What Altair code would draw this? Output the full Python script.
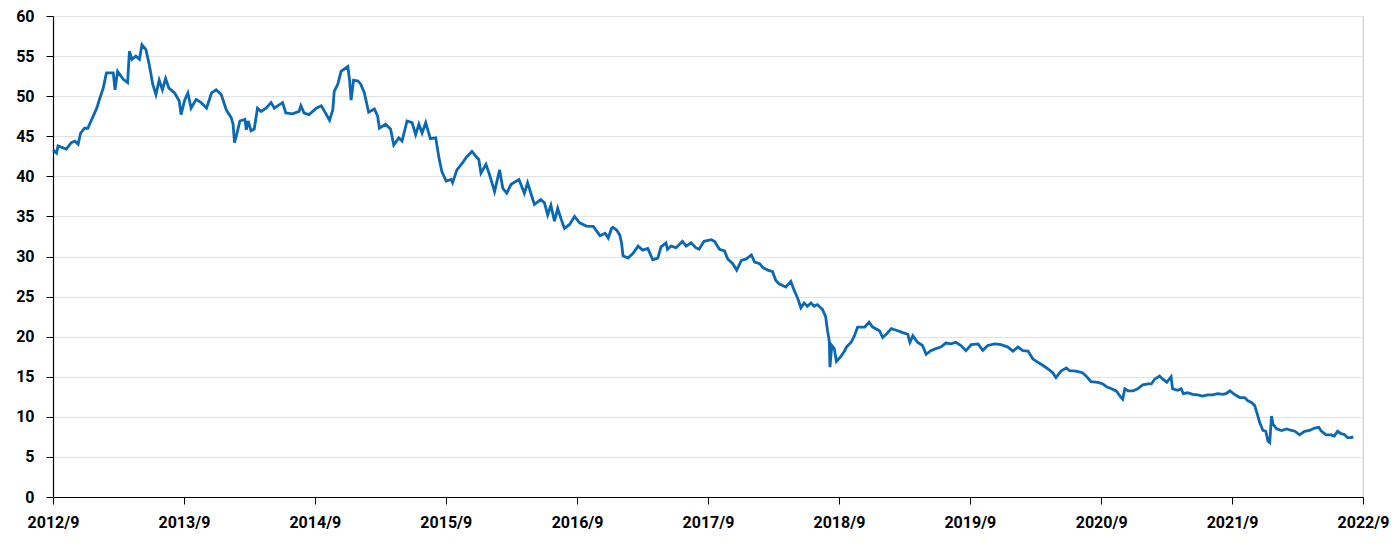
import altair as alt
import pandas as pd

dates = [
    "2012-09-01", "2012-09-11", "2012-09-15", "2012-10-08", "2012-10-22", "2012-11-01", "2012-11-10",
    "2012-11-17", "2012-11-28", "2012-12-07", "2012-12-17", "2013-01-01", "2013-01-10", "2013-01-19",
    "2013-01-28", "2013-02-16", "2013-02-21", "2013-02-28", "2013-03-16", "2013-03-28", "2013-04-02",
    "2013-04-09", "2013-04-20", "2013-04-30", "2013-05-07", "2013-05-18", "2013-05-27", "2013-06-06",
    "2013-06-15", "2013-06-24", "2013-07-03", "2013-07-12", "2013-07-21", "2013-08-06", "2013-08-19",
    "2013-08-24", "2013-09-03",
    "2013-09-12", "2013-09-21", "2013-10-05", "2013-10-19", "2013-11-03", "2013-11-17", "2013-11-30",
    "2013-12-14", "2013-12-28", "2014-01-11", "2014-01-16", "2014-01-20", "2014-01-27", "2014-02-04",
    "2014-02-18", "2014-02-22", "2014-02-27", "2014-03-07", "2014-03-16", "2014-03-25", "2014-04-04",
    "2014-04-18", "2014-05-02", "2014-05-11", "2014-05-20", "2014-06-03", "2014-06-12", "2014-07-01",
    "2014-07-19", "2014-07-24", "2014-08-02", "2014-08-16", "2014-09-05",
    "2014-09-19", "2014-09-28", "2014-10-12", "2014-10-21", "2014-10-25", "2014-11-04", "2014-11-13",
    "2014-12-02", "2014-12-07", "2014-12-11", "2014-12-18", "2014-12-30", "2015-01-07", "2015-01-17",
    "2015-01-29", "2015-02-14", "2015-02-23", "2015-02-28", "2015-03-17", "2015-03-31", "2015-04-09",
    "2015-04-23", "2015-05-02", "2015-05-16", "2015-05-30", "2015-06-09", "2015-06-18", "2015-06-27",
    "2015-07-07", "2015-07-20", "2015-08-04", "2015-08-13", "2015-08-21", "2015-09-02",
    "2015-09-16", "2015-09-20", "2015-10-02", "2015-10-18", "2015-10-27", "2015-11-13", "2015-11-24",
    "2015-12-02", "2015-12-08", "2015-12-22", "2016-01-01", "2016-01-15", "2016-01-29", "2016-02-07",
    "2016-02-18", "2016-03-01", "2016-03-23", "2016-04-07", "2016-04-16", "2016-05-05", "2016-05-23",
    "2016-06-02", "2016-06-11", "2016-06-20", "2016-06-30", "2016-07-09", "2016-07-19", "2016-07-28",
    "2016-08-11", "2016-08-25", "2016-09-08",
    "2016-09-27", "2016-10-16", "2016-11-04", "2016-11-18", "2016-11-27", "2016-12-06", "2016-12-10",
    "2016-12-20", "2016-12-29", "2017-01-03", "2017-01-07", "2017-01-21", "2017-02-04", "2017-02-18",
    "2017-03-03", "2017-03-17", "2017-03-31", "2017-04-14", "2017-04-23", "2017-05-07", "2017-05-11",
    "2017-05-21", "2017-06-04", "2017-06-22", "2017-07-02", "2017-07-16", "2017-07-29", "2017-08-07",
    "2017-08-21", "2017-09-10",
    "2017-09-19", "2017-10-03", "2017-10-17", "2017-10-26", "2017-11-09", "2017-11-20", "2017-12-03",
    "2017-12-17", "2017-12-31", "2018-01-09", "2018-01-23", "2018-02-01", "2018-02-15", "2018-02-28",
    "2018-03-09", "2018-03-18", "2018-04-06", "2018-04-20", "2018-04-29", "2018-05-09", "2018-05-18",
    "2018-05-27", "2018-06-05", "2018-06-15", "2018-06-24", "2018-07-03", "2018-07-17", "2018-07-26",
    "2018-07-31", "2018-08-05", "2018-08-07", "2018-08-12", "2018-08-19", "2018-08-25", "2018-09-06",
    "2018-09-17", "2018-09-22", "2018-09-26", "2018-10-05", "2018-10-14", "2018-10-23", "2018-10-28",
    "2018-11-12", "2018-11-24", "2018-12-04", "2018-12-23", "2019-01-01", "2019-01-11", "2019-01-25",
    "2019-02-08", "2019-02-26", "2019-03-12", "2019-03-18", "2019-03-26", "2019-04-08", "2019-04-22",
    "2019-05-02", "2019-05-15", "2019-05-29", "2019-06-12", "2019-06-26", "2019-07-10", "2019-07-24",
    "2019-08-07", "2019-08-21", "2019-09-05",
    "2019-09-24", "2019-10-07", "2019-10-21", "2019-11-09", "2019-11-27", "2019-12-16", "2019-12-30",
    "2020-01-13", "2020-01-27", "2020-02-10", "2020-02-24", "2020-03-09", "2020-03-23", "2020-04-05",
    "2020-04-19", "2020-04-28", "2020-05-13", "2020-05-27", "2020-06-05", "2020-06-23", "2020-07-11",
    "2020-07-21", "2020-08-04", "2020-08-23", "2020-09-06",
    "2020-09-16", "2020-09-30", "2020-10-14", "2020-10-23", "2020-10-31", "2020-11-06", "2020-11-15",
    "2020-11-29", "2020-12-12", "2020-12-26", "2021-01-10", "2021-01-19", "2021-01-28", "2021-02-11",
    "2021-02-20", "2021-03-03", "2021-03-15", "2021-03-19", "2021-04-02", "2021-04-12", "2021-04-18",
    "2021-04-30", "2021-05-14", "2021-05-28", "2021-06-11", "2021-06-25", "2021-07-09", "2021-07-23",
    "2021-08-06", "2021-08-15", "2021-08-26",
    "2021-09-09", "2021-09-23", "2021-10-06", "2021-10-15", "2021-10-25", "2021-11-03", "2021-11-12",
    "2021-11-17", "2021-11-26", "2021-12-04", "2021-12-10", "2021-12-15", "2021-12-20", "2021-12-24",
    "2022-01-03", "2022-01-17", "2022-01-31", "2022-02-14", "2022-02-23", "2022-03-08", "2022-03-22",
    "2022-04-05", "2022-04-19", "2022-05-01", "2022-05-07", "2022-05-21", "2022-06-04", "2022-06-13",
    "2022-06-22", "2022-07-02", "2022-07-11", "2022-07-20", "2022-07-29", "2022-08-05",
]

values = [
    43.3, 42.9, 43.8, 43.4, 44.2, 44.4, 44.0,
    45.4, 46.0, 46.0, 47.0, 48.5, 49.8, 51.0,
    52.9, 52.9, 50.8, 53.1, 52.1, 51.7, 55.6,
    54.6, 55.0, 54.6, 56.4, 55.8, 54.0, 51.5,
    50.2, 52.0, 50.8, 52.2, 51.0, 50.4, 49.4,
    47.7, 49.5,
    50.4, 48.5, 49.6, 49.2, 48.5, 50.4, 50.8,
    50.2, 48.3, 47.3, 46.5, 44.2, 45.4, 46.9,
    47.1, 45.8, 46.9, 45.7, 45.9, 48.5, 48.1,
    48.5, 49.2, 48.5, 48.8, 49.2, 47.9, 47.8,
    48.1, 48.8, 47.9, 47.7, 48.5,
    48.8, 48.1, 47.0, 48.3, 50.6, 51.5, 53.1,
    53.7, 51.9, 49.5, 52.0, 51.9, 51.5, 50.4,
    48.0, 48.4, 47.5, 46.0, 46.5, 45.9, 43.9,
    44.8, 44.4, 46.9, 46.7, 45.2, 46.5, 45.4,
    46.7, 44.7, 44.8, 42.3, 40.6, 39.4,
    39.6, 39.2, 40.8, 41.7, 42.3, 43.1, 42.5,
    42.1, 40.4, 41.5, 40.2, 38.1, 40.8, 38.5,
    37.9, 39.0, 39.6, 37.9, 39.2, 36.5, 37.1,
    36.7, 35.2, 36.4, 34.4, 36.0, 34.6, 33.5,
    34.0, 35.0, 34.2,
    33.8, 33.75, 32.6, 32.9, 32.3, 33.5, 33.65,
    33.3, 32.7, 31.7, 30.1, 29.8, 30.4, 31.3,
    30.8, 31.0, 29.6, 29.8, 31.2, 31.7, 30.9,
    31.3, 31.1, 31.9, 31.3, 31.7, 31.1, 30.9,
    31.9, 32.1,
    31.9, 30.9, 30.7, 29.7, 29.1, 28.3, 29.5,
    29.7, 30.2, 29.3, 29.1, 28.6, 28.3, 28.1,
    27.0, 26.6, 26.2, 26.9, 25.8, 24.8, 23.6,
    24.2, 23.8, 24.2, 23.8, 24.0, 23.4, 22.5,
    20.8, 19.5, 16.2, 18.9, 18.5, 16.9, 17.5,
    18.25, 18.7, 18.9, 19.3, 20.1, 21.2, 21.2,
    21.2, 21.8, 21.2, 20.75, 19.9, 20.3, 21.0,
    20.8, 20.5, 20.3, 19.3, 20.1, 19.3, 18.9,
    17.8, 18.25, 18.5, 18.7, 19.2, 19.1, 19.3,
    18.9, 18.25, 19.0,
    19.1, 18.3, 18.9, 19.1, 19.0, 18.7, 18.2,
    18.7, 18.25, 18.2, 17.2, 16.8, 16.4, 16.0,
    15.5, 14.9, 15.75, 16.1, 15.75, 15.7, 15.5,
    15.1, 14.4, 14.3, 14.1,
    13.75, 13.5, 13.2, 12.6, 12.2, 13.5, 13.25,
    13.25, 13.5, 14.0, 14.1, 14.1, 14.7, 15.1,
    14.7, 14.3, 15.0, 13.5, 13.3, 13.5, 12.9,
    13.0, 12.8, 12.75, 12.6, 12.75, 12.75, 12.9,
    12.8, 12.9, 13.25,
    12.75, 12.4, 12.4, 12.0, 11.8, 11.4, 10.1,
    9.3, 8.3, 8.2, 7.0, 6.8, 10.1, 9.1,
    8.5, 8.3, 8.5, 8.3, 8.2, 7.75, 8.2,
    8.3, 8.6, 8.7, 8.25, 7.75, 7.75, 7.6,
    8.2, 7.9, 7.8, 7.4, 7.4, 7.5,
]

y_ticks = [0, 5, 10, 15, 20, 25, 30, 35, 40, 45, 50, 55, 60]
x_tick_years = list(range(2012, 2023))

df = pd.DataFrame({"date": dates, "value": values})

FONT = "Roboto"

x_domain = [alt.DateTime(year=2012, month=9, date=1, utc=True),
            alt.DateTime(year=2022, month=9, date=1, utc=True)]
x_vals = [alt.DateTime(year=y, month=9, date=1, utc=True) for y in x_tick_years]

x_enc = alt.X(
    "date:T",
    scale=alt.Scale(type="utc", domain=x_domain, nice=False),
    axis=alt.Axis(
        values=x_vals, labelExpr="utcFormat(datum.value, '%Y/%-m')", title=None, grid=False,
        domainColor="#000000", domainWidth=1.2, tickColor="#000000", tickSize=7,
        labelPadding=10, labelFontSize=16, labelFont=FONT, labelFontWeight="bold",
        labelColor="#000000", labelFlush=False, labelOverlap=False,
    ),
)
y_enc = alt.Y(
    "value:Q",
    scale=alt.Scale(domain=[0, 60], nice=False, zero=True),
    axis=alt.Axis(
        values=y_ticks, title=None, grid=True, gridColor="#e3e3e3", gridWidth=1,
        domainColor="#000000", domainWidth=1.2, tickColor="#000000", tickSize=7,
        labelPadding=12, labelFontSize=16, labelFont=FONT, labelFontWeight="bold",
        labelColor="#000000", labelFlush=False,
    ),
)

line = alt.Chart(df).mark_line(color="#0a68b4", strokeWidth=2.8, interpolate="linear").encode(
    x=x_enc, y=y_enc
)

edge_df = pd.DataFrame({"date": ["2022-09-01"]})
edge = alt.Chart(edge_df).mark_rule(color="#d5dae2", strokeWidth=1.2).encode(
    x=alt.X("date:T")
)

chart = (
    alt.layer(line, edge)
    .properties(
        width=1310, height=481,
        autosize=alt.AutoSizeParams(type="none"),
        padding={"left": 45, "top": 8, "right": 28, "bottom": 40},
    )
    .configure_view(stroke=None)
    .configure(background="#ffffff")
)

chart.save("out.html", embed_options={"renderer": "svg", "actions": False})
